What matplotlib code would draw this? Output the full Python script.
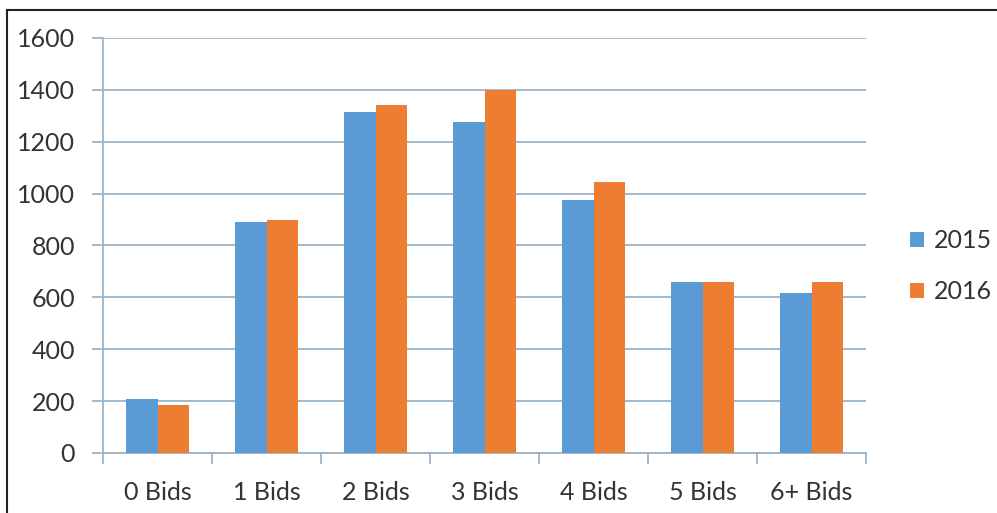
import matplotlib
matplotlib.use("Agg")
import matplotlib.pyplot as plt
import numpy as np
from matplotlib.lines import Line2D

categories = ["0 Bids", "1 Bids", "2 Bids", "3 Bids", "4 Bids", "5 Bids", "6+ Bids"]
values_2015 = [210, 890, 1315, 1275, 975, 660, 615]
values_2016 = [185, 900, 1340, 1400, 1045, 660, 660]
series_labels = ["2015", "2016"]

blue = "#5b9bd5"
orange = "#ed7d31"
axis_color = "#9bb4c8"
text_color = "#333333"

plt.rcParams['font.family'] = ['Lato', 'DejaVu Sans']

fig = plt.figure(figsize=(9.97, 5.13), dpi=100)
ax = fig.add_axes([103 / 997, 1 - 453 / 513, (866 - 103) / 997, (453 - 38) / 513])

x = np.arange(len(categories))
w = 0.285
ax.bar(x - w / 2, values_2015, w, color=blue, label=series_labels[0], zorder=3)
ax.bar(x + w / 2, values_2016, w, color=orange, label=series_labels[1], zorder=3)

ax.set_xlim(-0.5, len(categories) - 0.5)
ax.set_ylim(0, 1600)
ax.set_yticks(np.arange(0, 1601, 200))
ax.yaxis.grid(True, color=axis_color, linewidth=1.3, zorder=0)

# category labels centred, tick marks on the boundaries
ax.set_xticks(x)
ax.set_xticklabels(categories)
ax.set_xticks(np.arange(-0.5, len(categories)), minor=True)
ax.tick_params(axis="x", which="major", length=0, pad=20, labelsize=18, labelcolor=text_color)
ax.tick_params(axis="x", which="minor", length=8, width=1.3, color=axis_color)
ax.tick_params(axis="y", length=8, width=1.3, color=axis_color, pad=12, labelsize=18, labelcolor=text_color)

for side in ["top", "right"]:
    ax.spines[side].set_visible(False)
for side in ["left", "bottom"]:
    ax.spines[side].set_color(axis_color)
    ax.spines[side].set_linewidth(1.3)

ax.legend(loc="center left", bbox_to_anchor=(1.028, 0.45), frameon=False, fontsize=18,
          handlelength=0.55, handleheight=0.55, handletextpad=0.4, labelspacing=1.1,
          labelcolor=text_color)

# outer frame, top and left edges
fig.add_artist(Line2D([7 / 997, 7 / 997], [0, 1 - 10 / 513], color="#222222", linewidth=1.5))
fig.add_artist(Line2D([7 / 997, 1], [1 - 10 / 513, 1 - 10 / 513], color="#222222", linewidth=1.5))

fig.savefig("out.png", dpi=100, facecolor="white")
